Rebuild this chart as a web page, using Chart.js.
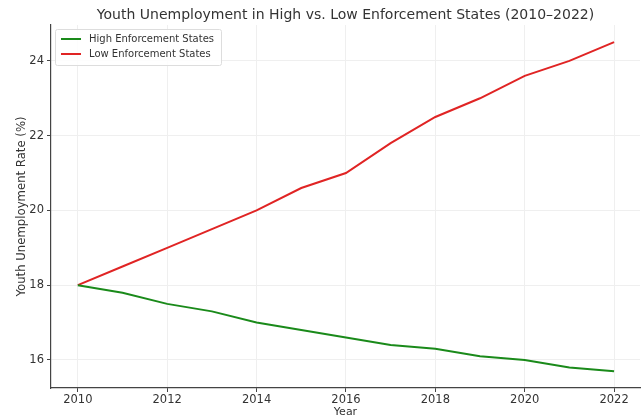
<!DOCTYPE html>
<html>
<head>
<meta charset="utf-8">
<script src="https://cdn.jsdelivr.net/npm/chart.js@4/dist/chart.umd.min.js"></script>
<style>
  html, body { margin: 0; padding: 0; background: #fff; }
  #wrap { width: 642px; height: 419px; }
</style>
</head>
<body>
<div id="wrap"><canvas id="youthChart" width="642" height="419"></canvas></div>
<script>
const years = [2010, 2011, 2012, 2013, 2014, 2015, 2016, 2017, 2018, 2019, 2020, 2021, 2022];
const highEnforcement = [18.0, 17.8, 17.5, 17.3, 17.0, 16.8, 16.6, 16.4, 16.3, 16.1, 16.0, 15.8, 15.7];
const lowEnforcement = [18.0, 18.5, 19.0, 19.5, 20.0, 20.6, 21.0, 21.8, 22.5, 23.0, 23.6, 24.0, 24.5];
const seriesNames = ['High Enforcement States', 'Low Enforcement States'];
const xTicks = [2010, 2012, 2014, 2016, 2018, 2020, 2022];
const yTicks = [16, 18, 20, 22, 24];
const chartTitle = 'Youth Unemployment in High vs. Low Enforcement States (2010\u20132022)';

const FONT = 'DejaVu Sans';
const TEXT = '#333';

// title centred over the plot area, like matplotlib does
const plotTitle = {
  id: 'plotTitle',
  afterDraw(chart) {
    const { ctx, chartArea } = chart;
    ctx.save();
    ctx.font = '14px "' + FONT + '"';
    ctx.fillStyle = TEXT;
    ctx.textAlign = 'center';
    ctx.textBaseline = 'middle';
    ctx.fillText(chartTitle, (chartArea.left + chartArea.right) / 2, 15);
    ctx.restore();
  }
};

// legend box drawn inside the plot, top-left
const insideLegend = {
  id: 'insideLegend',
  afterDraw(chart) {
    const { ctx, chartArea } = chart;
    const x = chartArea.left + 4, y = chartArea.top + 4;
    const w = 166, h = 36;
    ctx.save();
    ctx.fillStyle = 'rgba(255,255,255,0.85)';
    ctx.strokeStyle = '#ddd';
    ctx.lineWidth = 1;
    ctx.beginPath();
    ctx.roundRect(x + 0.5, y + 0.5, w, h, 2);
    ctx.fill();
    ctx.stroke();
    ctx.font = '10px "' + FONT + '"';
    ctx.textBaseline = 'middle';
    chart.data.datasets.forEach((ds, i) => {
      const ly = y + 10 + i * 15;
      ctx.strokeStyle = ds.borderColor;
      ctx.lineWidth = 2;
      ctx.beginPath();
      ctx.moveTo(x + 6, ly);
      ctx.lineTo(x + 26, ly);
      ctx.stroke();
      ctx.fillStyle = TEXT;
      ctx.fillText(ds.label, x + 34, ly);
    });
    ctx.restore();
  }
};

new Chart(document.getElementById('youthChart'), {
  type: 'line',
  data: {
    datasets: [
      {
        label: seriesNames[0],
        data: years.map((yr, i) => ({ x: yr, y: highEnforcement[i] })),
        borderColor: '#1a8a1a',
        borderWidth: 2,
        pointRadius: 0,
        tension: 0
      },
      {
        label: seriesNames[1],
        data: years.map((yr, i) => ({ x: yr, y: lowEnforcement[i] })),
        borderColor: '#e02424',
        borderWidth: 2,
        pointRadius: 0,
        tension: 0
      }
    ]
  },
  options: {
    responsive: false,
    animation: false,
    layout: { padding: { top: 25, right: 2, bottom: 0, left: 0 } },
    scales: {
      x: {
        type: 'linear',
        min: 2009.4,
        max: 2022.58,
        afterBuildTicks: (scale) => { scale.ticks = xTicks.map(v => ({ value: v })); },
        afterFit: (scale) => { scale.height = 31; },
        ticks: { color: TEXT, font: { family: FONT, size: 11.5 }, padding: 1, callback: (v) => String(v) },
        grid: { color: '#efefef', tickColor: '#444', tickLength: 4 },
        border: { color: '#444', width: 1.2 },
        title: { display: true, text: 'Year', color: TEXT, font: { family: FONT, size: 11 }, padding: { top: 0, bottom: 0 } }
      },
      y: {
        min: 15.25,
        max: 24.96,
        afterBuildTicks: (scale) => { scale.ticks = yTicks.map(v => ({ value: v })); },
        afterFit: (scale) => { scale.width = 51; },
        ticks: { color: TEXT, font: { family: FONT, size: 11.5 }, padding: 3 },
        grid: { color: '#efefef', tickColor: '#444', tickLength: 4 },
        border: { color: '#444', width: 1.2 },
        title: { display: true, text: 'Youth Unemployment Rate (%)', color: TEXT, font: { family: FONT, size: 11.7 }, padding: { top: 15, bottom: 2 } }
      }
    },
    plugins: {
      legend: { display: false },
      tooltip: { enabled: false },
      title: { display: false }
    }
  },
  plugins: [plotTitle, insideLegend]
});
</script>
</body>
</html>
